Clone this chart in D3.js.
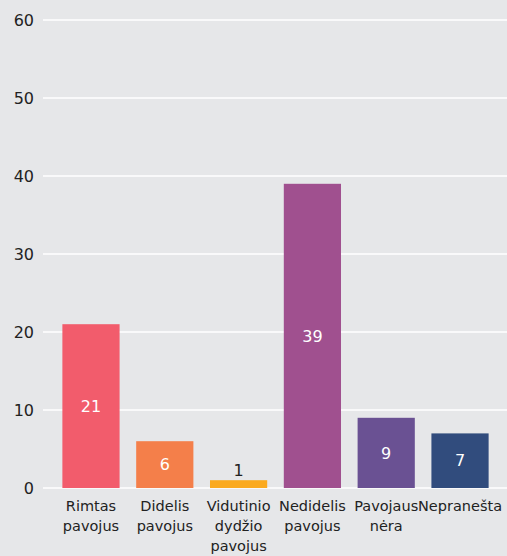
<!DOCTYPE html>
<html>
<head>
<meta charset="utf-8">
<script src="https://cdn.jsdelivr.net/npm/d3@7"></script>
<style>
  body { margin: 0; background: #e6e7e9; }
  svg { display: block; font-family: "DejaVu Sans", sans-serif; }
</style>
</head>
<body>
<svg id="chart" width="507" height="556"></svg>
<script>
var categories = [["Rimtas", "pavojus"], ["Didelis", "pavojus"], ["Vidutinio", "dydžio", "pavojus"],
                  ["Nedidelis", "pavojus"], ["Pavojaus", "nėra"], ["Nepranešta"]];
var values = [21, 6, 1, 39, 9, 7];
var colors = ["#f25c6c", "#f47f4a", "#fbaa1f", "#a0508f", "#6a5193", "#314c7d"];
var yTicks = [0, 10, 20, 30, 40, 50, 60];

var w = 507, h = 556;
var svg = d3.select("#chart");

var x = d3.scaleBand()
    .domain(d3.range(values.length))
    .range([55, 496])
    .paddingInner(0.225)
    .paddingOuter(0.1);

var y = d3.scaleLinear().domain([0, 60]).range([488, 20]);

svg.append("rect").attr("width", w).attr("height", h).attr("fill", "#e6e7e9");

// grid
svg.selectAll("line.grid")
    .data(yTicks)
  .enter().append("line")
    .attr("class", "grid")
    .attr("x1", 43).attr("x2", w)
    .attr("y1", function(d) { return y(d); })
    .attr("y2", function(d) { return y(d); })
    .attr("stroke", "#ffffff")
    .attr("stroke-width", 1.5);

svg.selectAll("text.ytick")
    .data(yTicks)
  .enter().append("text")
    .attr("class", "ytick")
    .attr("x", 34)
    .attr("y", function(d) { return y(d); })
    .attr("dy", "0.35em")
    .attr("text-anchor", "end")
    .attr("font-size", 16)
    .attr("fill", "#222")
    .text(function(d) { return d; });

// bars
svg.selectAll("rect.bar")
    .data(values)
  .enter().append("rect")
    .attr("class", "bar")
    .attr("x", function(d, i) { return x(i); })
    .attr("width", x.bandwidth())
    .attr("y", function(d) { return y(d); })
    .attr("height", function(d) { return y(0) - y(d); })
    .attr("fill", function(d, i) { return colors[i]; });

// value labels
svg.selectAll("text.val")
    .data(values)
  .enter().append("text")
    .attr("class", "val")
    .attr("x", function(d, i) { return x(i) + x.bandwidth() / 2; })
    .attr("y", function(d) { return d < 3 ? y(d) - 10 : (y(d) + y(0)) / 2; })
    .attr("dy", "0.35em")
    .attr("text-anchor", "middle")
    .attr("font-size", 16)
    .attr("fill", function(d) { return d < 3 ? "#222" : "#ffffff"; })
    .text(function(d) { return d; });

// category labels
var cat = svg.selectAll("text.cat")
    .data(categories)
  .enter().append("text")
    .attr("class", "cat")
    .attr("text-anchor", "middle")
    .attr("font-size", 14.5)
    .attr("fill", "#222")
    .attr("transform", function(d, i) { return "translate(" + (x(i) + x.bandwidth() / 2) + ",511)"; });

cat.selectAll("tspan")
    .data(function(d) { return d; })
  .enter().append("tspan")
    .attr("x", 0)
    .attr("y", function(d, j) { return j * 20; })
    .text(function(d) { return d; });
</script>
</body>
</html>
